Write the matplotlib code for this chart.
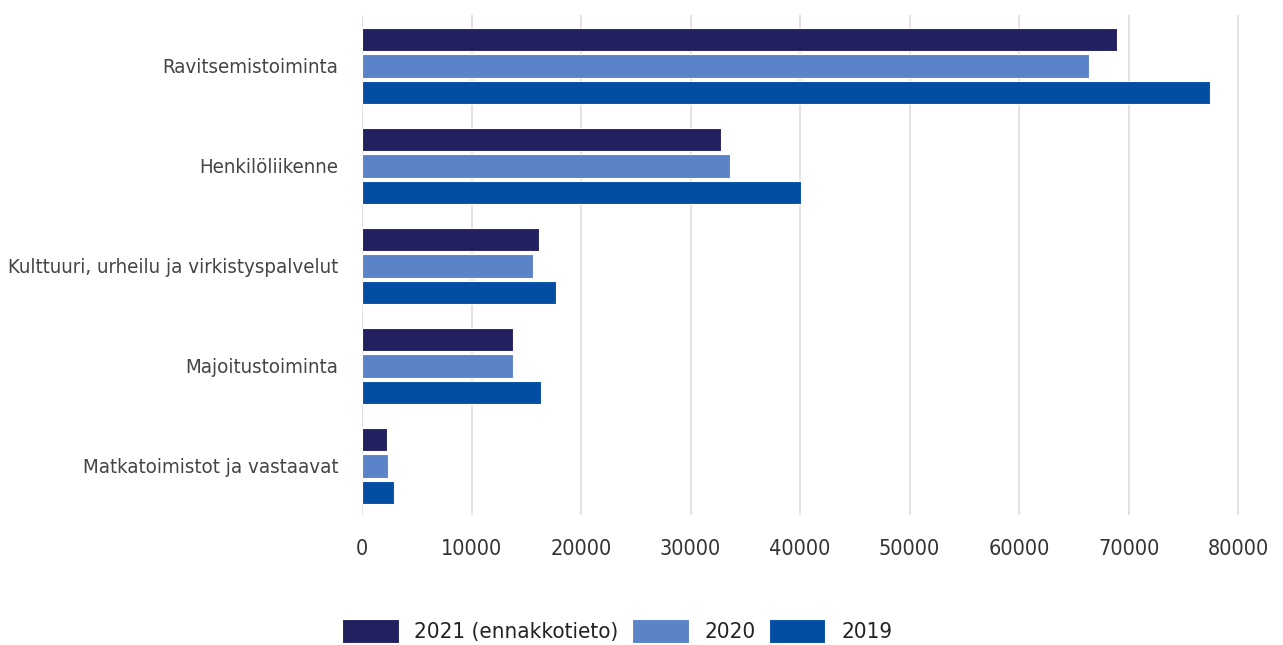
import matplotlib
matplotlib.use('Agg')
import matplotlib.pyplot as plt
import numpy as np

categories = ['Ravitsemistoiminta', 'Henkilöliikenne', 'Kulttuuri, urheilu ja virkistyspalvelut',
              'Majoitustoiminta', 'Matkatoimistot ja vastaavat']
v2021 = [68900, 32800, 16200, 13800, 2300]
v2020 = [66400, 33600, 15600, 13800, 2400]
v2019 = [77400, 40100, 17700, 16300, 2900]
series_labels = ['2021 (ennakkotieto)', '2020', '2019']
colors = ['#22205e', '#5b84c8', '#034ea2']

plt.rcParams['font.family'] = ['DejaVu Sans']
plt.rcParams['font.stretch'] = 'condensed'

fig = plt.figure(figsize=(12.83, 6.45), dpi=100)
ax = fig.add_axes([362 / 1283, 1 - 515 / 645, 898 / 1283, 500 / 645])

y = np.arange(len(categories))
step = 0.265
h = 0.235
for i, (vals, lab, col) in enumerate(zip([v2021, v2020, v2019], series_labels, colors)):
    ax.barh(y + (i - 1) * step, vals, height=h, color=col, label=lab,
            edgecolor='white', linewidth=0.8, zorder=3)

ax.set_xlim(0, 82000)
ax.set_ylim(4.49, -0.51)
ax.set_xticks(range(0, 80001, 10000))
ax.set_yticks(y)
ax.set_yticklabels(categories)
ax.grid(axis='x', color='#dddddd', linewidth=1.2, zorder=0)
for s in ax.spines.values():
    s.set_visible(False)
ax.tick_params(axis='y', length=0, labelsize=14.7, labelcolor='#444444', pad=17)
ax.tick_params(axis='x', length=0, labelsize=15.5, labelcolor='#333333', pad=17)

fig.legend(loc='center', bbox_to_anchor=(0.481, 0.022), ncol=3, frameon=False,
           fontsize=16, handlelength=2.55, handleheight=1.3, handletextpad=0.7,
           columnspacing=0.6, labelcolor='#222222')

plt.savefig('out.png', dpi=100)
